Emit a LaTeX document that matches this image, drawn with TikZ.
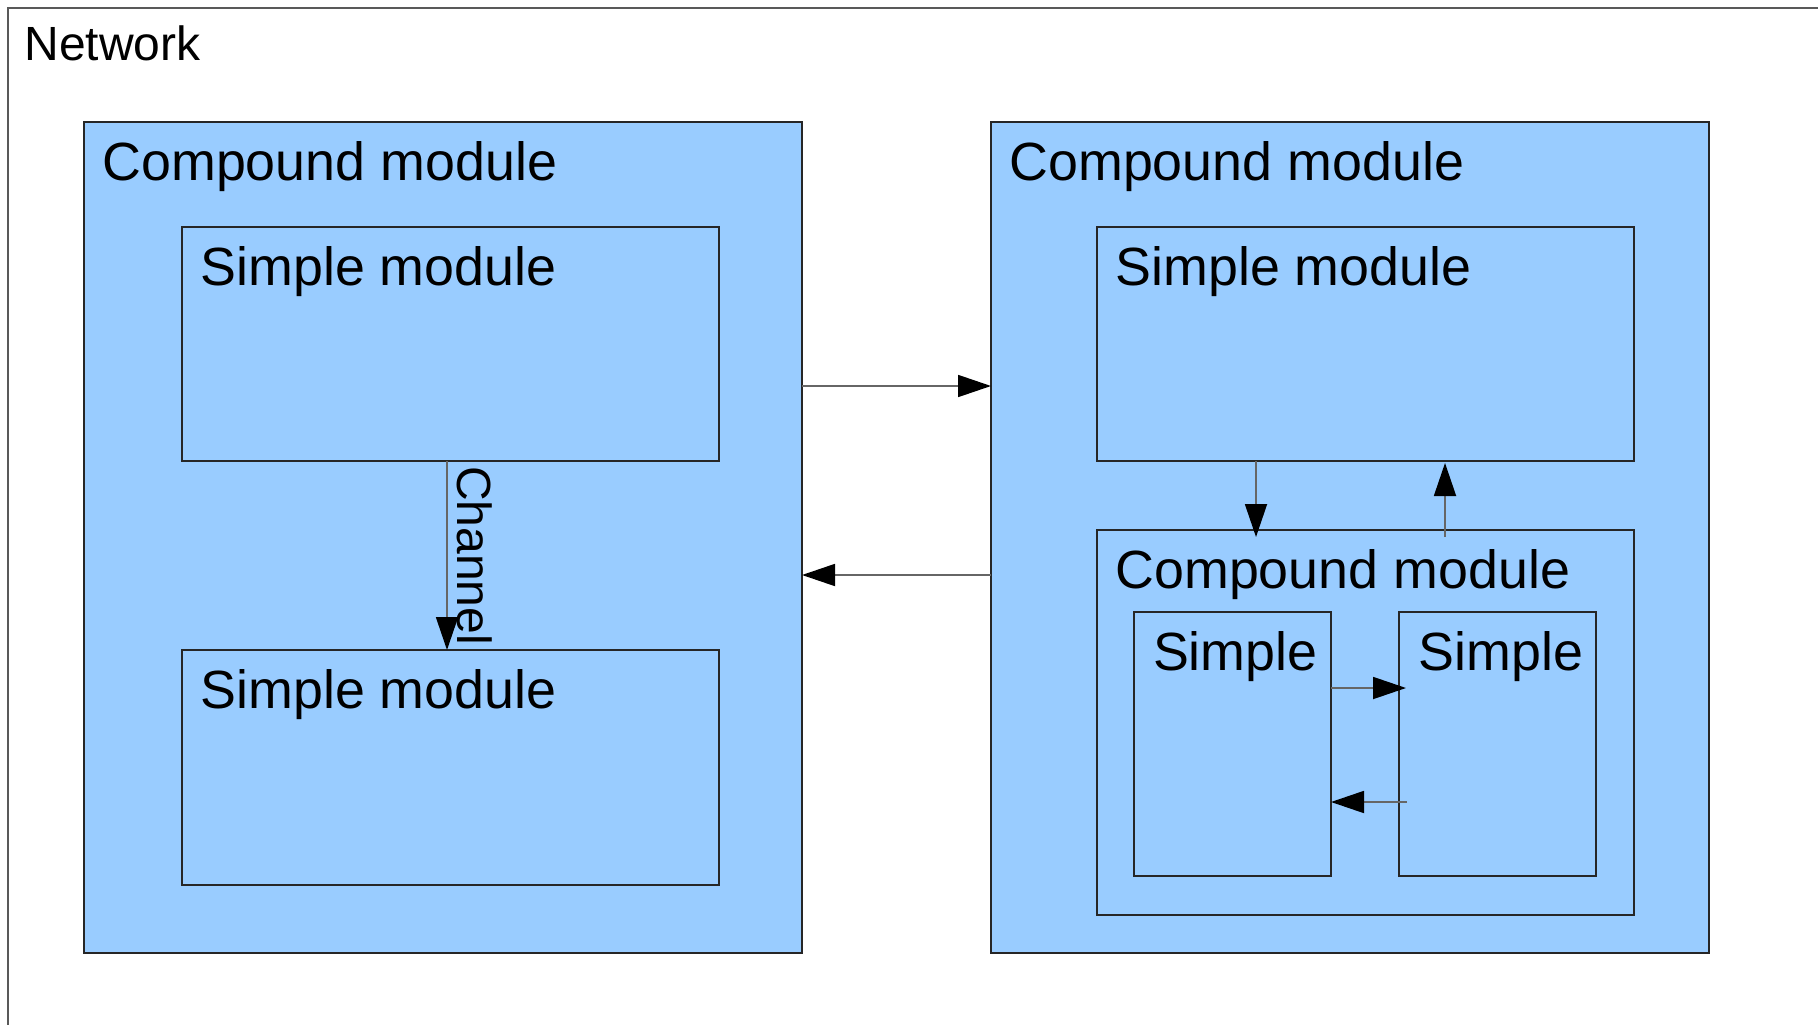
\documentclass[tikz,border=0pt]{standalone}
\usepackage{fontspec}
\setmainfont{Liberation Sans}
\usetikzlibrary{arrows.meta,calc}
\definecolor{modblue}{HTML}{99CCFF}
\newcommand\bigf{\fontsize{53.8}{60}\selectfont}
\newcommand\smallf{\fontsize{48}{54}\selectfont}
\begin{document}
\begin{tikzpicture}[x=1pt,y=-1pt,
  mod/.style={draw=black!85, fill=modblue, line width=1.3pt, rectangle, inner sep=0pt, outer sep=0pt, anchor=north west},
  ttl/.style={anchor=base west, inner sep=0pt, outer sep=0pt, font=\bigf},
  conn/.style={draw=black!60, line width=1.8pt, -{Triangle[length=33pt,width=22pt,color=black]}}]
\useasboundingbox (0,0) rectangle (1818,1025);
\fill[white] (0,0) rectangle (1818,1025);
\begin{scope}
\clip (0,0) rectangle (1818,1025);
\node[draw=black!65, line width=2pt, anchor=north west, minimum width=1900pt, minimum height=1100pt, inner sep=0pt, outer sep=0pt] (net) at (8,8) {};
\end{scope}
\node[ttl, font=\smallf] (nett) at (24.5,61) {Network};

% compound modules
\node[mod, minimum width=718pt, minimum height=831pt] (lc) at (84,122) {};
\node[ttl] (lct) at ($(lc.north west)+(18.5,58)$) {Compound module};
\node[mod, minimum width=718pt, minimum height=831pt] (rc) at (991,122) {};
\node[ttl] (rct) at ($(rc.north west)+(18.5,58)$) {Compound module};

% left simple modules
\node[mod, minimum width=537pt, minimum height=234pt] (ls1) at (182,227) {};
\node[ttl] (ls1t) at ($(ls1.north west)+(18.5,58)$) {Simple module};
\node[mod, minimum width=537pt, minimum height=235pt] (ls2) at (182,650) {};
\node[ttl] (ls2t) at ($(ls2.north west)+(18.5,58)$) {Simple module};

% right simple module and inner compound
\node[mod, minimum width=537pt, minimum height=234pt] (rs) at (1097,227) {};
\node[ttl] (rst) at ($(rs.north west)+(18.5,58)$) {Simple module};
\node[mod, minimum width=537pt, minimum height=385pt] (ic) at (1097,530) {};
\node[ttl] (ict) at ($(ic.north west)+(18.5,58)$) {Compound module};
\node[mod, minimum width=197pt, minimum height=264pt] (sa) at (1134,612) {};
\node[ttl] (sat) at ($(sa.north west)+(19,58)$) {Simple};
\node[mod, minimum width=197pt, minimum height=264pt] (sb) at (1399,612) {};
\node[ttl] (sbt) at ($(sb.north west)+(19.5,58)$) {Simple};

% connectors
\draw[conn] (ls1.south -| 447,0) -- (ls2.north -| 447,0);
\node[anchor=base west, inner sep=0pt, rotate=-90, font=\smallf] (chl) at (457,466) {Channel};

\draw[conn] (lc.east |- 0,386) -- (rc.west |- 0,386);
\draw[conn] (rc.west |- 0,575) -- (lc.east |- 0,575);

\draw[conn] (rs.south -| 1256,0) -- ($(ic.north -| 1256,0)+(0,7)$);
\draw[conn] ($(ic.north -| 1445,0)+(0,7)$) -- ($(rs.south -| 1445,0)+(0,2)$);

\draw[conn] (sa.east |- 0,688) -- ($(sb.west |- 0,688)+(7,0)$);
\draw[conn] ($(sb.west |- 0,802)+(8,0)$) -- (sa.east |- 0,802);
\end{tikzpicture}
\end{document}
